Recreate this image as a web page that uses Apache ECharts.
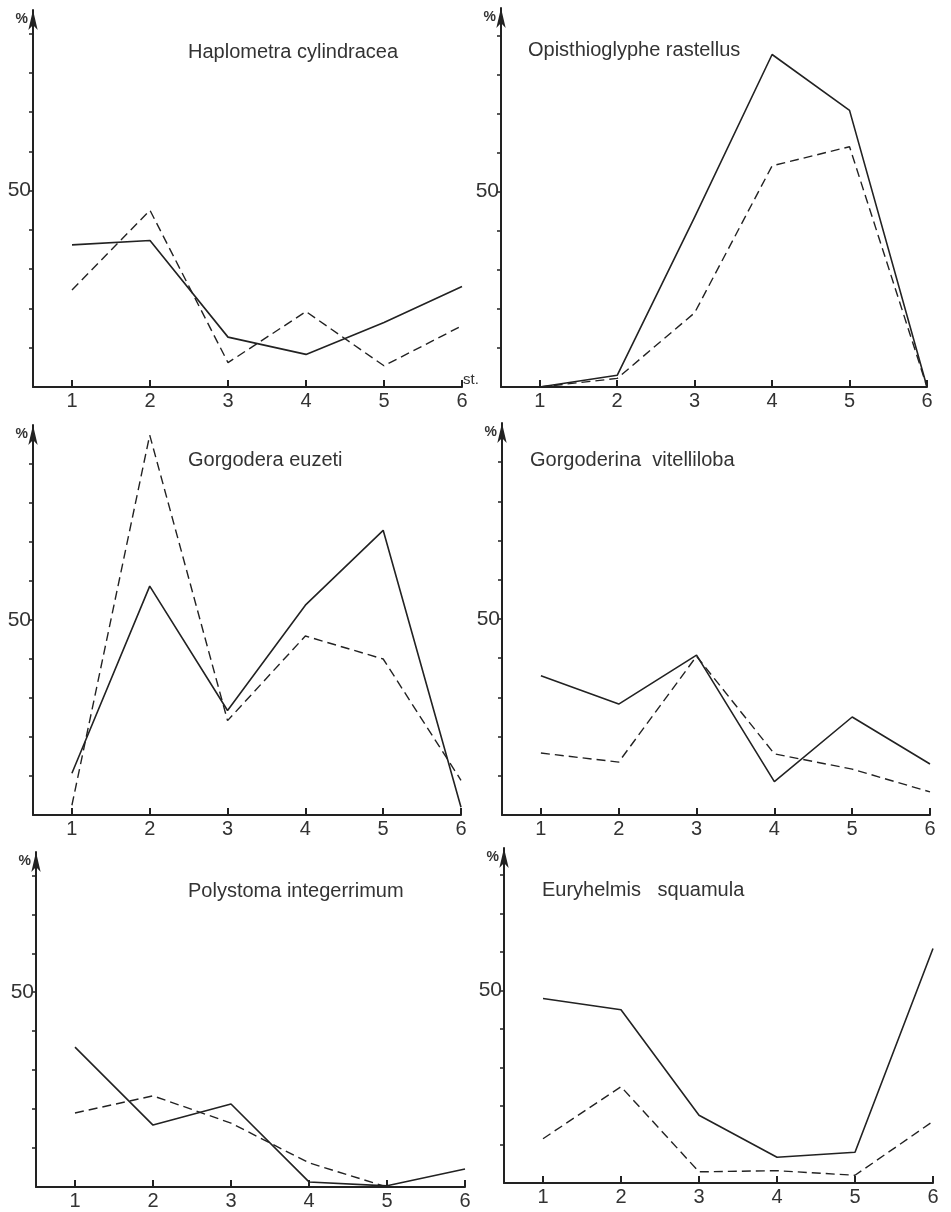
<!DOCTYPE html>
<html>
<head>
<meta charset="utf-8">
<script src="https://cdn.jsdelivr.net/npm/echarts@6/dist/echarts.min.js"></script>
<style>
  html, body { margin: 0; padding: 0; background: #fff; }
  #main { width: 951px; height: 1212px; }
</style>
</head>
<body>
<div id="main"></div>
<script>
// stations along the river (x axis)
const stations = [1, 2, 3, 4, 5, 6];
const yTicks = [10, 20, 30, 40, 50, 60, 70, 80, 90];
const yLabels = [50];

const species = [
  'Haplometra cylindracea',
  'Opisthioglyphe rastellus',
  'Gorgodera euzeti',
  'Gorgoderina  vitelliloba',
  'Polystoma integerrimum',
  'Euryhelmis   squamula'
];

// % values, solid and dashed curve of each panel
const haplometraSolid = [36.2, 37.3, 12.7, 8.3, 16.4, 25.6];
const haplometraDashed = [24.7, 45.0, 6.2, 19.2, 5.4, 15.6];
const opisthioSolid = [0, 3.0, 43.5, 85.1, 70.8, 0];
const opisthioDashed = [0, 2.2, 19.0, 56.6, 61.5, 0];
const gorgoderaSolid = [10.7, 58.7, 26.8, 53.8, 73.0, 2.0];
const gorgoderaDashed = [2.5, 97.4, 24.2, 45.9, 40.0, 8.9];
const gorgoderinaSolid = [35.5, 28.3, 40.8, 8.5, 25.0, 13.0];
const gorgoderinaDashed = [15.8, 13.5, 40.5, 15.6, 11.7, 5.9];
const polystomaSolid = [35.9, 15.9, 21.3, 1.3, 0.3, 4.6];
const polystomaDashed = [19.0, 23.4, 16.4, 6.2, 0, null];
const euryhelmisSolid = [47.9, 45.0, 17.6, 6.7, 8.0, 60.9];
const euryhelmisDashed = [11.5, 25.0, 2.9, 3.2, 2.0, 16.0];

const solidSets = [haplometraSolid, opisthioSolid, gorgoderaSolid, gorgoderinaSolid, polystomaSolid, euryhelmisSolid];
const dashedSets = [haplometraDashed, opisthioDashed, gorgoderaDashed, gorgoderinaDashed, polystomaDashed, euryhelmisDashed];

// panel boxes: left, x end, top of y axis, baseline, y max
const panels = [
  { left: 33, xEnd: 462, top: 10, base: 387, ymax: 96, titleLeft: 188, titleTop: 42 },
  { left: 501, xEnd: 927, top: 8, base: 387, ymax: 97, titleLeft: 528, titleTop: 40 },
  { left: 33, xEnd: 461, top: 425, base: 815, ymax: 100, titleLeft: 188, titleTop: 450 },
  { left: 502, xEnd: 930, top: 423, base: 815, ymax: 100, titleLeft: 530, titleTop: 450 },
  { left: 36, xEnd: 465, top: 852, base: 1187, ymax: 86, titleLeft: 188, titleTop: 881 },
  { left: 504, xEnd: 933, top: 848, base: 1183, ymax: 87, titleLeft: 542, titleTop: 880 }
];

const ink = '#222';

const chart = echarts.init(document.getElementById('main'));

const grid = [], xAxis = [], yAxis = [], series = [], title = [];

panels.forEach((p, i) => {
  grid.push({
    left: p.left,
    width: p.xEnd - p.left,
    top: p.top,
    height: p.base - p.top
  });
  title.push({
    text: species[i],
    left: p.titleLeft,
    top: p.titleTop,
    padding: 0,
    textStyle: { fontFamily: 'Liberation Sans', fontSize: 20, fontWeight: 'normal', color: '#333' }
  });
  xAxis.push({
    type: 'value',
    gridIndex: i,
    min: 0.5,
    max: 6,
    name: i === 0 ? 'st.' : '',
    nameLocation: 'end',
    nameGap: 1,
    nameTextStyle: { fontFamily: 'Liberation Sans', fontSize: 15, color: '#333', verticalAlign: 'bottom' },
    splitLine: { show: false },
    axisLine: { lineStyle: { color: ink, width: 2 } },
    axisTick: { inside: true, length: 7, customValues: stations, lineStyle: { color: ink, width: 2 } },
    axisLabel: { customValues: stations, fontFamily: 'Liberation Sans', fontSize: 20, color: '#333', margin: 4 }
  });
  yAxis.push({
    type: 'value',
    gridIndex: i,
    min: 0,
    max: p.ymax,
    name: '%',
    nameLocation: 'end',
    nameGap: -16,
    nameTextStyle: { fontFamily: 'Liberation Sans', fontSize: 14, fontWeight: 'bold', color: '#333', align: 'right', padding: [0, 5, 0, 0] },
    splitLine: { show: false },
    axisLine: { lineStyle: { color: ink, width: 2 }, symbol: ['none', 'arrow'], symbolSize: [7, 20] },
    axisTick: { inside: false, length: 4, customValues: yTicks, lineStyle: { color: ink, width: 1.5 } },
    axisLabel: { customValues: yLabels, fontFamily: 'Liberation Sans', fontSize: 21, color: '#333', margin: 2 }
  });
  series.push({
    type: 'line',
    xAxisIndex: i,
    yAxisIndex: i,
    showSymbol: false,
    data: stations.map((s, k) => [s, solidSets[i][k]]),
    lineStyle: { color: ink, width: 1.6 }
  });
  series.push({
    type: 'line',
    xAxisIndex: i,
    yAxisIndex: i,
    showSymbol: false,
    data: stations.map((s, k) => [s, dashedSets[i][k]]),
    lineStyle: { color: ink, width: 1.4, type: [9, 5] }
  });
});

chart.setOption({
  animation: false,
  backgroundColor: '#fff',
  title: title,
  grid: grid,
  xAxis: xAxis,
  yAxis: yAxis,
  series: series
});
</script>
</body>
</html>
